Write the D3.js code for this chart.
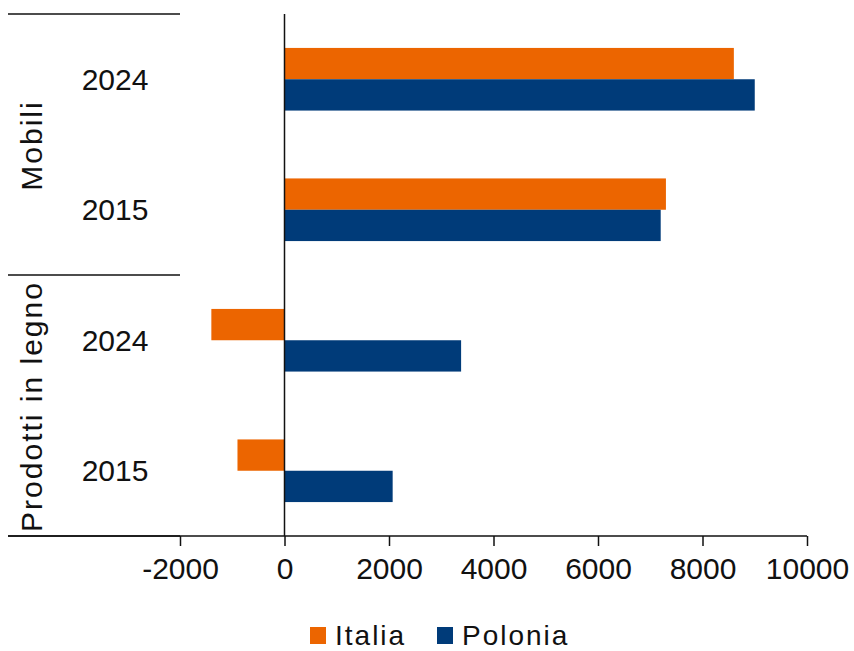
<!DOCTYPE html>
<html>
<head>
<meta charset="utf-8">
<script src="https://cdn.jsdelivr.net/npm/d3@7"></script>
<style>
	body { margin: 0; background: #fff; }
	text { font-family: "Liberation Sans", Arial, sans-serif; fill: #111; }
</style>
</head>
<body>
<div id="chart"></div>
<script>

// DATA //
var groups = ["Mobili", "Prodotti in legno"];
var years = ["2024", "2015"];
var seriesNames = ["Italia", "Polonia"];
var seriesColors = ["#EC6500", "#003B79"];
var italia = [8600, 7300, -1400, -900];
var polonia = [9000, 7200, 3380, 2070];
var xTicks = [-2000, 0, 2000, 4000, 6000, 8000, 10000];


/*
 *  BarChart - Object constructor function
 *  @param _parentElement   -- HTML element in which to draw the visualization
 */

BarChart = function(_parentElement) {

	this.parentElement = _parentElement;

	// one row per group / year pair, top to bottom
	this.rows = [];
	var vis = this;
	groups.forEach(function(g) {
		years.forEach(function(y) {
			vis.rows.push({group: g, year: y, key: g + "|" + y});
		});
	});
	this.rows.forEach(function(r, i) {
		r.values = [italia[i], polonia[i]];
	});

	this.initVis();
}


/*
 *  Initialize chart
 */

BarChart.prototype.initVis = function() {
	var vis = this;

	vis.width = 854;
	vis.height = 651;

	vis.svg = d3.select('#' + vis.parentElement).append("svg")
		.attr("width", vis.width)
		.attr("height", vis.height);

	vis.plotTop = 14;
	vis.plotBottom = 536;
	vis.labelLeft = 8;

	vis.x = d3.scaleLinear()
		.domain([-2000, 10000])
		.range([180, 807]);

	vis.y = d3.scaleBand()
		.domain(vis.rows.map(function(d) { return d.key; }))
		.range([vis.plotTop, vis.plotBottom])
		.paddingInner(0.52)
		.paddingOuter(0.26);

	vis.ySeries = d3.scaleBand()
		.domain(seriesNames)
		.range([0, vis.y.bandwidth()]);

	vis.updateVis();
}


/*
 *  The drawing function
 */

BarChart.prototype.updateVis = function() {
	var vis = this;

	// DRAW BARS //
	var row = vis.svg.selectAll(".row")
		.data(vis.rows)
		.enter().append("g")
		.attr("class", "row")
		.attr("transform", function(d) { return "translate(0," + vis.y(d.key) + ")"; });

	row.selectAll("rect")
		.data(function(d) { return d.values; })
		.enter().append("rect")
		.attr("x", function(v) { return vis.x(Math.min(0, v)); })
		.attr("width", function(v) { return Math.abs(vis.x(v) - vis.x(0)); })
		.attr("y", function(v, i) { return vis.ySeries(seriesNames[i]); })
		.attr("height", vis.ySeries.bandwidth())
		.attr("fill", function(v, i) { return seriesColors[i]; });

	// X AXIS //
	var xAxis = d3.axisBottom(vis.x)
		.tickValues(xTicks)
		.tickSize(10)
		.tickSizeOuter(0)
		.tickPadding(12)
		.tickFormat(function(d) { return d; });

	var gx = vis.svg.append("g")
		.attr("transform", "translate(0," + vis.plotBottom + ")")
		.call(xAxis);
	gx.select(".domain").remove();
	gx.selectAll("line").attr("stroke", "#111").attr("stroke-width", 1.5);
	gx.selectAll("text")
		.style("font-family", "'Liberation Sans', Arial, sans-serif")
		.style("font-size", "30px")
		.attr("fill", "#111");

	// axis line, across label area and plot
	vis.svg.append("line")
		.attr("x1", vis.labelLeft).attr("x2", vis.x(10000))
		.attr("y1", vis.plotBottom).attr("y2", vis.plotBottom)
		.attr("stroke", "#111").attr("stroke-width", 1.5);

	// zero line
	vis.svg.append("line")
		.attr("x1", vis.x(0)).attr("x2", vis.x(0))
		.attr("y1", vis.plotTop).attr("y2", vis.plotBottom)
		.attr("stroke", "#111").attr("stroke-width", 1.5);

	// CATEGORY LABELS //
	var step = vis.y.step();
	var groupEdges = [vis.plotTop];
	groups.forEach(function(g, gi) {
		groupEdges.push(vis.plotTop + step * years.length * (gi + 1));
	});

	vis.svg.selectAll(".sep")
		.data(groupEdges)
		.enter().append("line")
		.attr("class", "sep")
		.attr("x1", vis.labelLeft).attr("x2", vis.x(-2000))
		.attr("y1", function(d) { return d; }).attr("y2", function(d) { return d; })
		.attr("stroke", "#111").attr("stroke-width", 1.5);

	vis.svg.selectAll(".yearLabel")
		.data(vis.rows)
		.enter().append("text")
		.attr("class", "yearLabel")
		.attr("x", 115)
		.attr("y", function(d) { return vis.y(d.key) + vis.y.bandwidth() / 2; })
		.attr("dy", "0.35em")
		.attr("text-anchor", "middle")
		.style("font-size", "30px")
		.text(function(d) { return d.year; });

	vis.svg.selectAll(".groupLabel")
		.data(groups)
		.enter().append("text")
		.attr("class", "groupLabel")
		.attr("transform", function(d, i) {
			var cy = (groupEdges[i] + groupEdges[i + 1]) / 2;
			return "translate(42," + (cy + 1) + ") rotate(-90)";
		})
		.attr("text-anchor", "middle")
		.style("font-size", "30px")
		.style("letter-spacing", "2px")
		.text(function(d) { return d; });

	// LEGEND //
	var legend = vis.svg.append("g")
		.attr("transform", "translate(310,627)");

	var item = legend.selectAll(".item")
		.data(seriesNames)
		.enter().append("g")
		.attr("class", "item")
		.attr("transform", function(d, i) { return "translate(" + (i * 127) + ",0)"; });

	item.append("rect")
		.attr("width", 16).attr("height", 17)
		.attr("fill", function(d, i) { return seriesColors[i]; });

	item.append("text")
		.attr("x", 25)
		.attr("y", 18)
		.style("font-size", "28px")
		.style("letter-spacing", "2px")
		.text(function(d) { return d; });
}

var chart = new BarChart("chart");

</script>
</body>
</html>
